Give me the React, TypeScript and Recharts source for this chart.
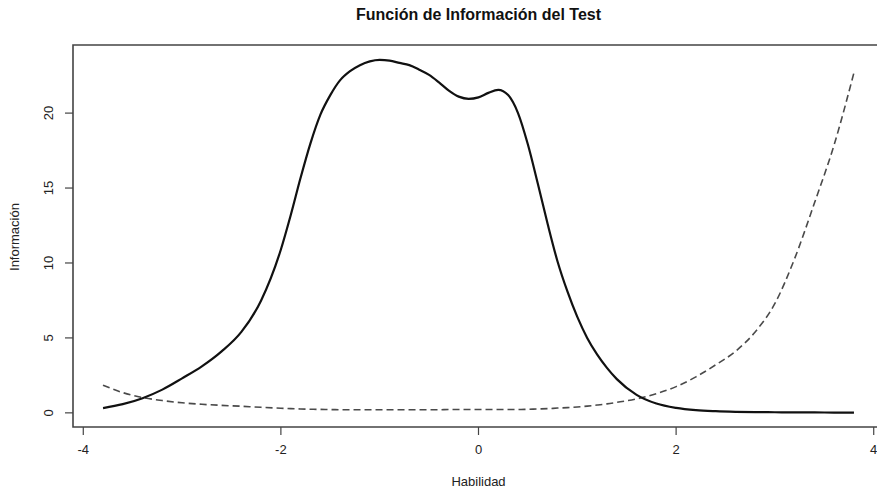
import React from 'react';
import { LineChart, Line, XAxis, YAxis, ReferenceArea } from 'recharts';

const thetas = [-3.8, -3.6, -3.4, -3.2, -3.0, -2.8, -2.6, -2.4, -2.2, -2.0, -1.9, -1.8, -1.7, -1.6, -1.5, -1.4, -1.3, -1.2, -1.1, -1.0, -0.9, -0.8, -0.7, -0.6, -0.5, -0.4, -0.3, -0.2, -0.1, 0.0, 0.1, 0.2, 0.3, 0.4, 0.5, 0.6, 0.7, 0.8, 0.9, 1.0, 1.1, 1.2, 1.3, 1.4, 1.6, 1.8, 2.0, 2.2, 2.4, 2.6, 2.8, 3.0, 3.2, 3.4, 3.6, 3.8];

const informacion = [0.32, 0.58, 0.98, 1.55, 2.3, 3.1, 4.1, 5.4, 7.5, 10.9, 13.2, 15.7, 18.0, 19.9, 21.2, 22.2, 22.8, 23.2, 23.45, 23.55, 23.5, 23.35, 23.2, 22.9, 22.55, 22.05, 21.5, 21.1, 20.95, 21.05, 21.35, 21.55, 21.2, 20.0, 17.9, 15.3, 12.6, 10.1, 8.1, 6.4, 5.0, 3.9, 3.0, 2.25, 1.2, 0.62, 0.33, 0.18, 0.11, 0.07, 0.05, 0.04, 0.03, 0.03, 0.02, 0.02];

const errorEstandar = [1.85, 1.35, 1.02, 0.82, 0.67, 0.57, 0.5, 0.44, 0.37, 0.31, 0.28, 0.26, 0.24, 0.23, 0.22, 0.21, 0.21, 0.21, 0.21, 0.21, 0.21, 0.21, 0.21, 0.21, 0.21, 0.21, 0.22, 0.22, 0.22, 0.22, 0.22, 0.22, 0.22, 0.22, 0.24, 0.26, 0.28, 0.32, 0.35, 0.39, 0.45, 0.52, 0.6, 0.7, 0.93, 1.28, 1.75, 2.4, 3.2, 4.1, 5.4, 7.3, 10.3, 14.0, 17.9, 22.7];

const xTicks = [-4, -2, 0, 2, 4];
const yTicks = [0, 5, 10, 15, 20];

const title = 'Función de Información del Test';
const xTitle = 'Habilidad';
const yTitle = 'Información';

const data = thetas.map((t, i) => ({ x: t, info: informacion[i], se: errorEstandar[i] }));

const X_DOMAIN: [number, number] = [-4.104, 4.104];
const Y_DOMAIN: [number, number] = [-0.944, 24.544];

const FONT = '"Liberation Sans", Arial, Helvetica, sans-serif';

const XTick = (props: any) => {
  const { x, y, payload } = props;
  return (
    <text x={x} y={y + 17} textAnchor="middle" fontSize={13} fontFamily={FONT} fill="#222">
      {String(payload.value)}
    </text>
  );
};

const YTick = (props: any) => {
  const { x, y, payload } = props;
  const cx = x - 4;
  return (
    <text x={cx} y={y} textAnchor="middle" fontSize={13} fontFamily={FONT} fill="#222" transform={`rotate(-90, ${cx}, ${y})`}>
      {String(payload.value)}
    </text>
  );
};

export default function App() {
  return (
    <div style={{ position: 'absolute', left: 0, top: 0, width: 877, height: 490, overflow: 'hidden', background: '#fff', fontFamily: FONT }}>
      <LineChart width={890} height={490} data={data} margin={{ top: 45, right: 6, bottom: 23, left: 33 }}>
        <XAxis
          dataKey="x"
          type="number"
          domain={X_DOMAIN}
          ticks={xTicks}
          allowDataOverflow
          axisLine={false}
          tickLine={{ stroke: '#444', strokeWidth: 1.2 }}
          tickSize={8}
          tickMargin={2}
          height={40}
          tick={<XTick />}
        />
        <YAxis
          type="number"
          domain={Y_DOMAIN}
          ticks={yTicks}
          allowDataOverflow
          axisLine={false}
          tickLine={{ stroke: '#444', strokeWidth: 1.2 }}
          tickSize={8}
          tickMargin={8}
          width={40}
          tick={<YTick />}
        />
        <ReferenceArea x1={X_DOMAIN[0]} x2={X_DOMAIN[1]} y1={Y_DOMAIN[0]} y2={Y_DOMAIN[1]} fill="none" fillOpacity={0} stroke="#444" strokeWidth={1.6} strokeOpacity={1} />
        <Line type="monotone" dataKey="se" stroke="#4a4a4a" strokeWidth={1.6} strokeDasharray="7 4" dot={false} isAnimationActive={false} />
        <Line type="monotone" dataKey="info" stroke="#111" strokeWidth={2.2} dot={false} isAnimationActive={false} />
      </LineChart>
      <div style={{ position: 'absolute', left: 0, width: 957, top: 6, textAlign: 'center', fontWeight: 'bold', fontSize: 16, color: '#111', lineHeight: '18px' }}>
        {title}
      </div>
      <div style={{ position: 'absolute', left: 0, width: 957, top: 474, textAlign: 'center', fontSize: 13, color: '#222', lineHeight: '16px' }}>
        {xTitle}
      </div>
      <div style={{ position: 'absolute', left: 15 - 60, top: 237 - 8, width: 120, height: 16, textAlign: 'center', fontSize: 13, color: '#222', lineHeight: '16px', transform: 'rotate(-90deg)', transformOrigin: '60px 8px' }}>
        {yTitle}
      </div>
    </div>
  );
}
